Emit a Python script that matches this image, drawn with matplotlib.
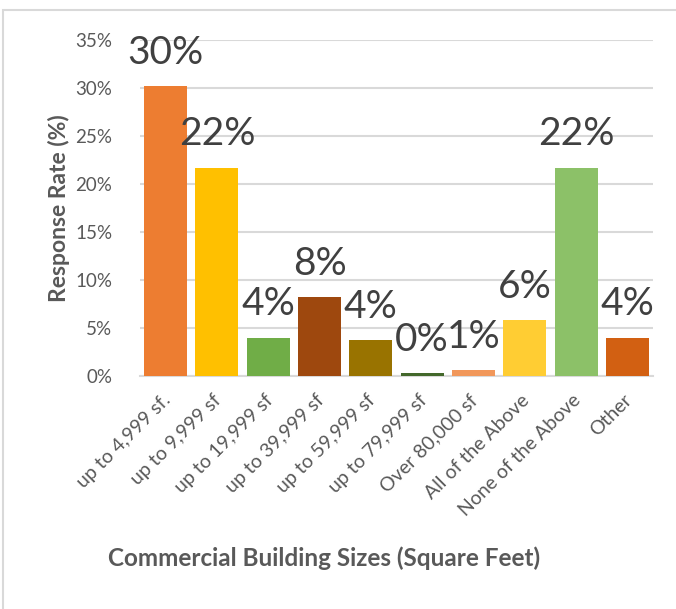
import matplotlib.pyplot as plt
from matplotlib.patches import Rectangle
from matplotlib.transforms import ScaledTranslation

plt.rcParams['font.family'] = ['Lato', 'DejaVu Sans']

# survey responses by building size
categories = ['up to 4,999 sf.', 'up to 9,999 sf', 'up to 19,999 sf', 'up to 39,999 sf',
              'up to 59,999 sf', 'up to 79,999 sf', 'Over 80,000 sf', 'All of the Above',
              'None of the Above', 'Other']
rates = [30.2, 21.7, 4.0, 8.2, 3.7, 0.3, 0.6, 5.8, 21.7, 4.0]
colors = ['#ED7D31', '#FFC000', '#70AD47', '#9E480E', '#997300',
          '#43682B', '#F1975A', '#FFCD33', '#8CC168', '#D26012']
yticks = [0, 5, 10, 15, 20, 25, 30, 35]

grey = '#595959'
fig = plt.figure(figsize=(6.76, 6.09), dpi=100)
ax = fig.add_axes([140/676, 1 - 376/609, 513/676, 336/609])

x = range(len(categories))
bars = ax.bar(x, rates, width=0.84, color=colors, zorder=3)

for b, v in zip(bars, rates):
    ax.annotate(f'{v:.0f}%', (b.get_x() + b.get_width()/2, v),
                xytext=(0, 16), textcoords='offset points',
                ha='center', va='baseline', fontsize=28, color='#404040',
                annotation_clip=False, zorder=4)

ax.set_xlim(-0.5, len(categories) - 0.5)
ax.set_ylim(0, 35)
ax.set_yticks(yticks)
ax.set_yticklabels([f'{t}%' for t in yticks], fontsize=13.5, color=grey)
ax.yaxis.grid(True, color='#D9D9D9', linewidth=1.5, zorder=0)
ax.tick_params(axis='y', length=0, pad=20)
ax.tick_params(axis='x', length=0, pad=11)
ax.set_xticks(list(x))
ax.set_xticklabels(categories, rotation=45, ha='right', rotation_mode='anchor',
                   fontsize=14, color=grey)
# nudge the slanted labels so their ends sit under the bar centres
shift = ScaledTranslation(-3/72, 0, fig.dpi_scale_trans)
for lbl in ax.get_xticklabels():
    lbl.set_transform(lbl.get_transform() + shift)

for s in ['top', 'right', 'left']:
    ax.spines[s].set_visible(False)
ax.spines['bottom'].set_color('#D9D9D9')
ax.spines['bottom'].set_linewidth(1.5)

ax.set_ylabel('Response Rate (%)', fontsize=16.5, fontweight='bold', color=grey, labelpad=4)
fig.text(324/676, 1 - 558/609, 'Commercial Building Sizes (Square Feet)',
         fontsize=17.5, fontweight='bold', color=grey, ha='center', va='center')

# chart frame
fig.patches.append(Rectangle((3/676, -0.1), 1.2, 1.1 - 10/609, transform=fig.transFigure,
                             fill=False, edgecolor='#D9D9D9', linewidth=1.5))

fig.savefig('out.png', dpi=100)
